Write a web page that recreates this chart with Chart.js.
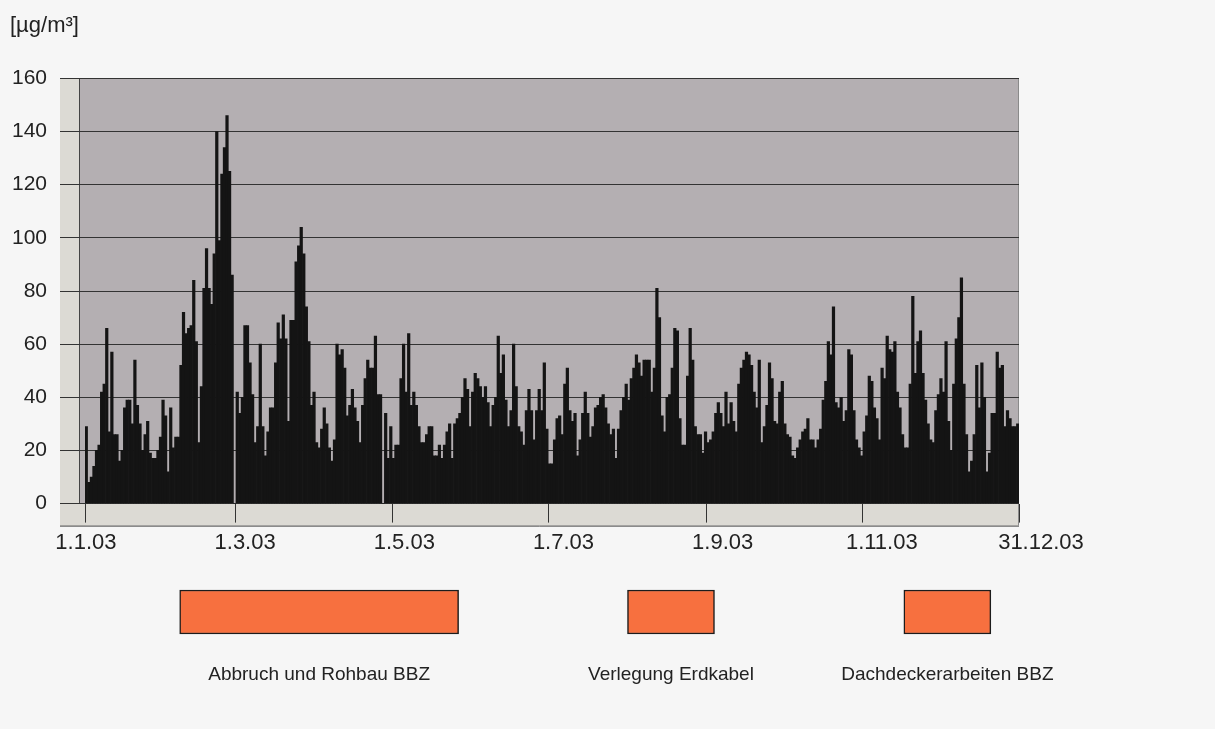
<!DOCTYPE html>
<html>
<head>
<meta charset="utf-8">
<script src="https://cdn.jsdelivr.net/npm/chart.js@4.4.1/dist/chart.umd.min.js"></script>
<style>
  html, body { margin: 0; padding: 0; background: #f6f6f6; }
  #wrap { position: relative; width: 1215px; height: 729px; }
  #main { position: absolute; left: 0; top: 0; }
  #phases { position: absolute; left: 0; top: 560px; }
</style>
</head>
<body>
<div id="wrap">
  <canvas id="main" width="1215" height="568"></canvas>
  <canvas id="phases" width="1215" height="169"></canvas>
</div>
<script>
// daily values 2003 in µg/m³, one array per month
const jan = [29, 8, 10, 14, 20, 22, 42, 45, 66, 27, 57, 26, 26, 16, 20, 36, 39, 39, 30, 54, 37, 30, 20, 26, 31, 19, 17, 17, 20, 25, 39];
const feb = [33, 12, 36, 21, 25, 25, 52, 72, 64, 66, 67, 84, 61, 23, 44, 81, 96, 81, 75, 94, 140, 99, 124, 134, 146, 125, 86, 0];
const mar = [42, 34, 40, 67, 67, 53, 41, 23, 29, 60, 29, 18, 27, 36, 36, 53, 68, 62, 71, 62, 31, 69, 69, 91, 97, 104, 94, 74, 61, 37, 42];
const apr = [23, 21, 28, 36, 30, 21, 16, 24, 60, 56, 58, 51, 33, 37, 43, 36, 31, 23, 37, 47, 54, 51, 51, 63, 41, 41, 0, 34, 17, 29];
const may = [17, 22, 22, 47, 60, 42, 64, 37, 42, 37, 29, 23, 23, 26, 29, 29, 18, 18, 22, 17, 22, 27, 30, 17, 30, 32, 34, 40, 47, 43, 29];
const jun = [42, 49, 47, 44, 40, 44, 38, 29, 37, 40, 63, 49, 56, 39, 29, 35, 60, 44, 29, 27, 22, 35, 43, 35, 24, 35, 43, 35, 53, 28];
const jul = [15, 15, 24, 32, 33, 26, 45, 51, 35, 31, 34, 18, 24, 34, 42, 34, 25, 29, 36, 37, 40, 41, 36, 30, 26, 28, 17, 28, 35, 40, 45];
const aug = [39, 47, 51, 56, 53, 48, 54, 54, 54, 42, 51, 81, 70, 33, 27, 40, 41, 51, 66, 65, 32, 22, 22, 48, 66, 54, 29, 26, 26, 19, 27];
const sep = [23, 24, 27, 34, 38, 34, 29, 42, 30, 38, 31, 27, 45, 51, 54, 57, 56, 52, 42, 36, 54, 23, 29, 37, 53, 47, 31, 30, 42, 46];
const oct = [30, 26, 25, 18, 17, 21, 24, 27, 28, 32, 24, 24, 21, 24, 28, 39, 46, 61, 56, 74, 38, 36, 40, 31, 35, 58, 56, 35, 24, 21, 18];
const nov = [27, 33, 48, 46, 36, 32, 24, 51, 47, 63, 58, 57, 61, 42, 36, 26, 21, 21, 45, 78, 49, 61, 65, 49, 39, 30, 24, 23, 35, 41];
const dec = [47, 42, 61, 31, 20, 45, 62, 70, 85, 45, 26, 12, 16, 26, 52, 36, 53, 40, 12, 19, 34, 34, 57, 51, 52, 29, 35, 32, 29, 29, 30];

const months = [jan, feb, mar, apr, may, jun, jul, aug, sep, oct, nov, dec];
const dailyValues = [].concat(...months);

// category per day, "d.m.03"
const dayLabels = [];
months.forEach((m, mi) => m.forEach((v, di) => dayLabels.push((di + 1) + '.' + (mi + 1) + '.03')));

const xLabels = ['1.1.03', '1.3.03', '1.5.03', '1.7.03', '1.9.03', '1.11.03', '31.12.03'];
const xTickDays = [0, 59, 120, 181, 243, 304, 365];
const yTicks = [0, 20, 40, 60, 80, 100, 120, 140, 160];

// construction phases (day of year)
const phaseNames = ['Abbruch und Rohbau BBZ', 'Verlegung Erdkabel', 'Dachdeckerarbeiten BBZ'];
const phaseStart = [37, 212, 320];
const phaseEnd = [146, 246, 354];

const FONT = '"Liberation Sans", Arial, sans-serif';

// grey back wall + light side wall / floor like the old spreadsheet chart
const plotFrame = {
  id: 'plotFrame',
  beforeDraw(chart) {
    const { ctx, chartArea: a } = chart;
    ctx.save();
    ctx.fillStyle = '#dcdad4';
    ctx.fillRect(a.left - 25, a.top, 25, a.bottom - a.top + 22);
    ctx.fillRect(a.left - 25, a.bottom, a.right - a.left + 25, 22);
    ctx.fillStyle = '#b4afb2';
    ctx.fillRect(a.left - 6, a.top, a.right - a.left + 6, a.bottom - a.top);
    ctx.lineWidth = 1;
    ctx.strokeStyle = '#444';
    ctx.beginPath();
    ctx.moveTo(a.left - 5.5, a.top);
    ctx.lineTo(a.left - 5.5, a.bottom);
    ctx.moveTo(a.left - 25, a.bottom + 22.5);
    ctx.lineTo(a.right, a.bottom + 22.5);
    ctx.stroke();
    ctx.strokeStyle = '#8a8a8a';
    ctx.beginPath();
    ctx.moveTo(a.right - 0.5, a.top);
    ctx.lineTo(a.right - 0.5, a.bottom + 22);
    ctx.stroke();
    ctx.restore();
  }
};

new Chart(document.getElementById('main'), {
  type: 'bar',
  data: {
    labels: dayLabels,
    datasets: [{
      data: dailyValues,
      backgroundColor: '#141414',
      borderWidth: 0,
      barPercentage: 1,
      categoryPercentage: 1
    }]
  },
  options: {
    responsive: false,
    animation: false,
    devicePixelRatio: 1,
    layout: { padding: { left: 10, right: 196, top: 0, bottom: 5 } },
    plugins: {
      legend: { display: false },
      tooltip: { enabled: false },
      title: {
        display: true,
        text: '[µg/m³]',
        align: 'start',
        color: '#222',
        font: { family: FONT, size: 22, weight: 'normal' },
        padding: { top: 13, bottom: 39 }
      }
    },
    scales: {
      x: {
        type: 'category',
        weight: 0,
        border: { display: false },
        grid: {
          offset: true,
          drawOnChartArea: false,
          tickLength: 19,
          lineWidth: 1,
          color: c => (c.index === undefined || xTickDays.includes(c.index)) ? '#333' : 'rgba(0,0,0,0)'
        },
        ticks: { display: false, autoSkip: false }
      },
      // date labels sit evenly spaced, a bit off the real tick marks (as in the print)
      x2: {
        type: 'linear',
        position: 'bottom',
        weight: 1,
        offset: false,
        min: -0.006,
        max: 5.862,
        border: { display: false },
        grid: { display: false, drawTicks: false, offset: false },
        afterBuildTicks: ax => { ax.ticks = xLabels.map((t, i) => ({ value: i })); },
        ticks: {
          autoSkip: false,
          maxRotation: 0,
          padding: 7,
          color: '#222',
          font: { family: FONT, size: 22 },
          callback: (v, i) => xLabels[i]
        }
      },
      y: {
        min: 0,
        max: 160,
        afterBuildTicks: ax => { ax.ticks = yTicks.map(v => ({ value: v })); },
        afterFit: s => { s.width = 75; },
        border: { display: false },
        grid: { color: '#333', lineWidth: 1, tickLength: 25 },
        ticks: { padding: 13, color: '#222', font: { family: FONT, size: 21 } }
      }
    }
  },
  plugins: [plotFrame]
});

// phase names under each orange box
const phaseLabels = {
  id: 'phaseLabels',
  afterDatasetsDraw(chart) {
    const ctx = chart.ctx;
    ctx.save();
    ctx.font = '19px ' + FONT;
    ctx.fillStyle = '#222';
    ctx.textAlign = 'center';
    ctx.textBaseline = 'middle';
    chart.data.datasets.forEach((ds, i) => {
      const bar = chart.getDatasetMeta(i).data[0];
      ctx.fillText(ds.label, (bar.x + bar.base) / 2, bar.y + 63);
    });
    ctx.restore();
  }
};

new Chart(document.getElementById('phases'), {
  type: 'bar',
  data: {
    labels: ['Bauphasen'],
    datasets: phaseNames.map((name, i) => ({
      label: name,
      data: [[phaseStart[i], phaseEnd[i]]],
      backgroundColor: '#f7703f',
      borderColor: '#1c1c1c',
      borderWidth: 1.5,
      borderSkipped: false,
      barThickness: 44,
      grouped: false
    }))
  },
  options: {
    indexAxis: 'y',
    responsive: false,
    animation: false,
    devicePixelRatio: 1,
    layout: { padding: { left: 85, right: 196, top: 20, bottom: 85 } },
    plugins: { legend: { display: false }, tooltip: { enabled: false } },
    scales: {
      x: { display: false, min: 0, max: 365 },
      y: { display: false }
    }
  },
  plugins: [phaseLabels]
});
</script>
</body>
</html>
